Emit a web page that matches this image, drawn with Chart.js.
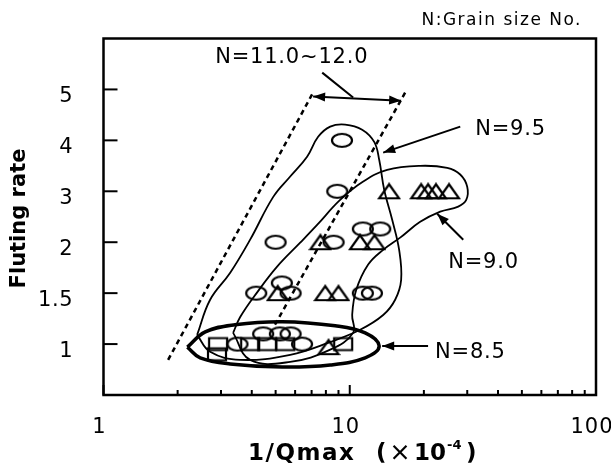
<!DOCTYPE html>
<html>
<head>
<meta charset="utf-8">
<script src="https://cdn.jsdelivr.net/npm/chart.js@4.4.1/dist/chart.umd.min.js"></script>
<style>
  html, body { margin: 0; padding: 0; background: #fff; }
  canvas { display: block; }
</style>
</head>
<body>
<canvas id="grafica" width="611" height="468"></canvas>
<script>
// Ejes: X logaritmico (1/Qmax x10^-4), Y con las marcas de fluting rate repartidas igual
const xTickValues = [1, 10, 100];
const xMinorTicks = [2, 3, 4, 5, 6, 7, 8, 9, 20, 30, 40, 50, 60, 70, 80, 90];
const yTickRates = [1, 1.5, 2, 3, 4, 5];

// N=9.5 (circulos)
const circleX = [9.3, 8.9, 5.0, 8.6, 11.3, 13.3, 4.17, 5.3, 5.75, 11.3, 12.3, 3.5, 6.4, 4.45, 5.2, 5.75];
const circleY = [4, 3, 2, 2, 2.26, 2.26, 1.5, 1.6, 1.5, 1.5, 1.5, 1, 1, 1.1, 1.1, 1.1];

// N=9.0 (triangulos)
const triangleX = [14.45, 19.5, 20.8, 22.4, 25.3, 7.6, 11.0, 12.6, 5.1, 7.95, 9.0, 8.2];
const triangleY = [3, 3, 3, 3, 3, 2, 2, 2, 1.5, 1.5, 1.5, 0.97];

// N=8.5 (cuadrados)
const squareX = [2.92, 2.89, 3.94, 4.62, 5.47, 9.4];
const squareY = [1, 0.9, 1, 1, 1, 1];

// Contornos de cada grupo (x, fluting rate)
const env95X = [2.40, 2.71, 3.27, 3.94, 4.89, 5.73, 6.71, 7.44, 8.33, 9.58, 11.23, 12.57, 13.17, 13.80, 14.87, 15.87, 16.17, 15.29, 13.67, 11.02, 8.33, 5.73, 3.59, 2.71, 2.40];
const env95Y = [1.09, 1.435, 1.70, 2.05, 2.89, 3.29, 3.68, 4.07, 4.27, 4.31, 4.21, 3.97, 3.62, 3.03, 2.44, 1.925, 1.63, 1.435, 1.285, 1.14, 1.02, 0.895, 0.845, 0.925, 1.09];
const env90X = [3.36, 3.59, 4.20, 5.07, 6.29, 7.37, 9.14, 11.34, 14.19, 19.32, 24.88, 28.09, 29.99, 29.72, 27.57, 23.30, 19.32, 16.02, 13.67, 11.88, 10.62, 10.23, 10.32, 8.33, 5.73, 3.94, 3.36];
const env90Y = [1.11, 1.265, 1.505, 1.76, 1.995, 2.34, 2.83, 3.19, 3.42, 3.50, 3.46, 3.33, 3.09, 2.83, 2.70, 2.60, 2.40, 2.09, 1.925, 1.78, 1.53, 1.285, 1.11, 0.945, 0.825, 0.845, 1.11];
const env85X = [2.19, 2.59, 3.42, 5.31, 8.73, 11.55, 13.17, 11.55, 8.33, 5.31, 3.27, 2.47, 2.19];
const env85Y = [0.97, 1.12, 1.19, 1.22, 1.18, 1.11, 0.98, 0.865, 0.795, 0.775, 0.805, 0.865, 0.97];

// Lineas punteadas N=11.0~12.0
const dashLeftX = [1.83, 7.10];
const dashLeftY = [0.845, 4.94];
const dashRightX = [4.97, 16.8];
const dashRightY = [1.19, 4.94];

// Flechas [x, rate] -> [x, rate]
const arrowDouble = [[7.10, 4.86], [16.17, 4.78]];
const leader1112 = [[7.73, 5.33], [10.32, 4.84]];
const arrow95 = [[28.1, 4.27], [13.67, 3.76]];
const arrow90 = [[28.9, 2.05], [22.65, 2.56]];
const arrow85 = [[20.8, 0.98], [13.54, 0.98]];

// Etiquetas de grupo
const labelText = ["N=11.0~12.0", "N=9.5", "N=9.0", "N=8.5"];
const labelX = [2.84, 32.3, 25.1, 22.2];
const labelY = [5.51, 4.11, 1.75, 0.865];

const FONT = "'DejaVu Sans', 'Liberation Sans', Arial";

// Pasa un valor de fluting rate a la posicion del eje (1 -> 1, 1.5 -> 2, 2 -> 3 ...)
function rateToPos(r) {
  let k = 0;
  while (k < yTickRates.length - 2 && r > yTickRates[k + 1]) k++;
  const a = yTickRates[k];
  const b = yTickRates[k + 1];
  return k + 1 + (r - a) / (b - a);
}

function toPoints(xs, ys) {
  return xs.map((x, i) => ({ x: x, y: rateToPos(ys[i]) }));
}

// Marcadores huecos dibujados en un canvas pequeno
function makeMarker(kind) {
  const c = document.createElement("canvas");
  const g = c.getContext("2d");
  if (kind === "circle") {
    c.width = 24; c.height = 17;
  } else if (kind === "triangle") {
    c.width = 24; c.height = 18;
  } else {
    c.width = 22; c.height = 17;
  }
  g.strokeStyle = "#000";
  g.lineWidth = 2.2;
  g.beginPath();
  if (kind === "circle") {
    g.ellipse(12, 8.5, 10, 6.5, 0, 0, Math.PI * 2);
  } else if (kind === "triangle") {
    g.moveTo(12, 2);
    g.lineTo(22, 16);
    g.lineTo(2, 16);
    g.closePath();
  } else {
    g.rect(2, 2.5, 18, 12);
  }
  g.stroke();
  return c;
}

function curve(xs, ys, width, dash, tension) {
  return {
    data: toPoints(xs, ys),
    showLine: true,
    pointRadius: 0,
    pointHoverRadius: 0,
    borderColor: "#000",
    borderWidth: width,
    borderDash: dash,
    tension: tension,
    fill: false,
  };
}

function markers(xs, ys, kind) {
  return {
    data: toPoints(xs, ys),
    showLine: false,
    pointStyle: makeMarker(kind),
    pointRadius: 8,
    pointHoverRadius: 8,
  };
}

function drawText(ctx, str, x, y, font, spacing, align) {
  ctx.font = font;
  ctx.letterSpacing = spacing + "px";
  ctx.textAlign = align;
  ctx.textBaseline = "alphabetic";
  ctx.fillText(str, x, y);
  ctx.letterSpacing = "0px";
}

function drawArrow(ctx, xs, ys, p, heads) {
  const x1 = xs.getPixelForValue(p[0][0]);
  const y1 = ys.getPixelForValue(rateToPos(p[0][1]));
  const x2 = xs.getPixelForValue(p[1][0]);
  const y2 = ys.getPixelForValue(rateToPos(p[1][1]));
  ctx.lineWidth = 2;
  ctx.beginPath();
  ctx.moveTo(x1, y1);
  ctx.lineTo(x2, y2);
  ctx.stroke();
  const head = (tx, ty, fx, fy) => {
    const ang = Math.atan2(ty - fy, tx - fx);
    const len = 12, half = 4.5;
    ctx.beginPath();
    ctx.moveTo(tx, ty);
    ctx.lineTo(tx - len * Math.cos(ang) + half * Math.sin(ang), ty - len * Math.sin(ang) - half * Math.cos(ang));
    ctx.lineTo(tx - len * Math.cos(ang) - half * Math.sin(ang), ty - len * Math.sin(ang) + half * Math.cos(ang));
    ctx.closePath();
    ctx.fill();
  };
  if (heads >= 1) head(x2, y2, x1, y1);
  if (heads >= 2) head(x1, y1, x2, y2);
}

const decoracion = {
  id: "decoracion",
  afterDatasetsDraw(chart) {
    const { ctx, chartArea: a, scales } = chart;
    const xs = scales.x;
    const ys = scales.y;
    ctx.save();
    ctx.strokeStyle = "#000";
    ctx.fillStyle = "#000";

    // Marco
    ctx.lineWidth = 2.5;
    ctx.strokeRect(a.left, a.top, a.right - a.left, a.bottom - a.top);

    // Marcas del eje Y hacia dentro
    ctx.lineWidth = 2;
    yTickRates.forEach((r) => {
      const py = ys.getPixelForValue(rateToPos(r));
      ctx.beginPath();
      ctx.moveTo(a.left, py);
      ctx.lineTo(a.left + 14, py);
      ctx.stroke();
      drawText(ctx, String(r), 73, py + 13, "21px " + FONT, 0.5, "right");
    });

    // Marcas del eje X
    xMinorTicks.forEach((v) => {
      const px = xs.getPixelForValue(v);
      ctx.beginPath();
      ctx.moveTo(px, a.bottom);
      ctx.lineTo(px, a.bottom - 5);
      ctx.stroke();
    });
    xTickValues.forEach((v) => {
      const px = xs.getPixelForValue(v);
      ctx.beginPath();
      ctx.moveTo(px, a.bottom);
      ctx.lineTo(px, a.bottom - 10);
      ctx.stroke();
      drawText(ctx, String(v), px - 4, 433, "21px " + FONT, 1, "center");
    });

    // Flechas
    drawArrow(ctx, xs, ys, arrowDouble, 2);
    drawArrow(ctx, xs, ys, leader1112, 0);
    drawArrow(ctx, xs, ys, arrow95, 1);
    drawArrow(ctx, xs, ys, arrow90, 1);
    drawArrow(ctx, xs, ys, arrow85, 1);

    // Etiquetas de grupo
    labelText.forEach((t, i) => {
      const px = xs.getPixelForValue(labelX[i]);
      const py = ys.getPixelForValue(rateToPos(labelY[i]));
      drawText(ctx, t, px, py, "21px " + FONT, 0.8, "left");
    });

    // Nota superior
    drawText(ctx, "N:Grain size No.", a.right - 14, 25, "17px " + FONT, 1.5, "right");

    // Titulo eje Y
    ctx.save();
    ctx.translate(25, 218.5);
    ctx.rotate(-Math.PI / 2);
    drawText(ctx, "Fluting rate", 0, 0, "bold 21px " + FONT, 0, "center");
    ctx.restore();

    // Titulo eje X con superindice
    const tb = "bold 23px " + FONT;
    drawText(ctx, "1/Qmax", 248, 460, tb, 1.5, "left");
    drawText(ctx, "(", 376, 460, tb, 0, "left");
    drawText(ctx, "×", 389, 460, "bold 22px 'Noto Sans CJK JP'", 0, "left");
    drawText(ctx, "10", 414, 460, tb, 0, "left");
    drawText(ctx, "-4", 447, 449, "bold 13px " + FONT, 0, "left");
    drawText(ctx, ")", 466, 460, tb, 0, "left");

    ctx.restore();
  },
};

const grafica = new Chart(document.getElementById("grafica"), {
  type: "scatter",
  data: {
    datasets: [
      markers(circleX, circleY, "circle"),
      markers(triangleX, triangleY, "triangle"),
      markers(squareX, squareY, "square"),
      curve(env95X, env95Y, 1.8, [], 0.4),
      curve(env90X, env90Y, 1.8, [], 0.4),
      curve(env85X, env85Y, 3.5, [], 0.4),
      curve(dashLeftX, dashLeftY, 2.5, [5, 4], 0),
      curve(dashRightX, dashRightY, 2.5, [5, 4], 0),
    ],
  },
  options: {
    responsive: false,
    animation: false,
    events: [],
    layout: { padding: { left: 103.5, right: 15, top: 38.5, bottom: 73 } },
    plugins: {
      legend: { display: false },
      tooltip: { enabled: false },
    },
    scales: {
      x: { type: "logarithmic", min: 1, max: 100, display: false },
      y: { type: "linear", min: 0, max: 7, display: false },
    },
  },
  plugins: [decoracion],
});
</script>
</body>
</html>
